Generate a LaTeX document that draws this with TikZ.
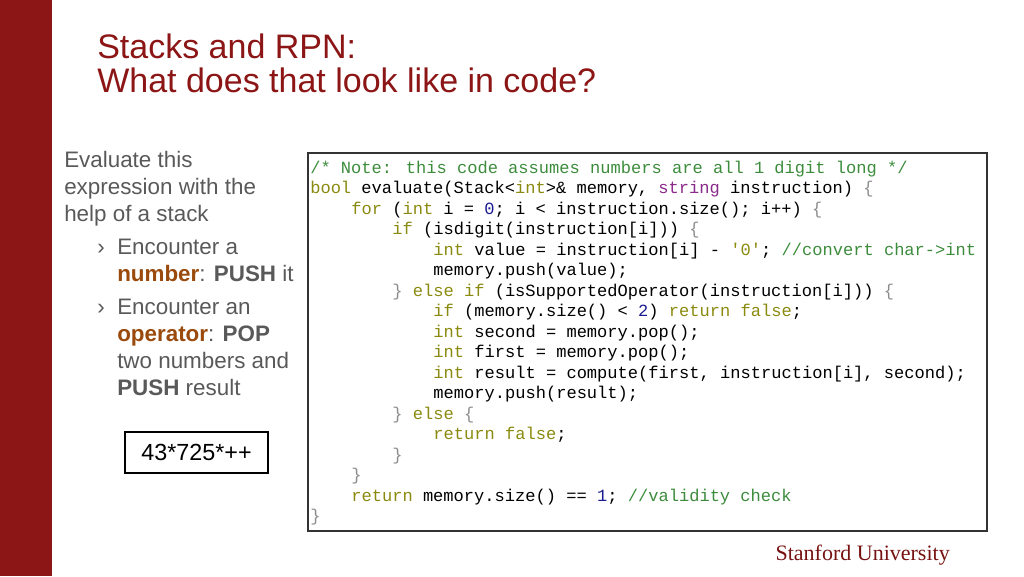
\documentclass[tikz,border=0pt]{standalone}
\usepackage{fontspec}
\setmainfont{Liberation Sans}
\newfontfamily\codefont{Liberation Mono}
\newfontfamily\sufont{Liberation Serif}
\definecolor{sred}{HTML}{8C1515}
\definecolor{bodygray}{HTML}{595959}
\definecolor{hl}{HTML}{9A4A0C}
\definecolor{kwc}{HTML}{8A8A10}
\definecolor{cmc}{HTML}{3C8C3C}
\definecolor{stc}{HTML}{8A2A8A}
\definecolor{nmc}{HTML}{1A1A90}
\definecolor{brc}{HTML}{8C8C8C}
\newcommand{\K}[1]{\textcolor{kwc}{#1}}
\newcommand{\C}[1]{\textcolor{cmc}{#1}}
\newcommand{\St}[1]{\textcolor{stc}{#1}}
\newcommand{\N}[1]{\textcolor{nmc}{#1}}
\newcommand{\B}[1]{\textcolor{brc}{#1}}
\begin{document}
\begin{tikzpicture}[x=0.75pt,y=-0.75pt,
  body/.style={anchor=base west,inner sep=0,text=bodygray,font=\fontsize{16.8}{19}\selectfont},
  code/.style={anchor=base west,inner sep=0,font=\codefont\fontsize{12.8}{15}\selectfont},
  title/.style={anchor=base west,inner sep=0,text=sred,font=\fontsize{25.5}{28}\selectfont}]
\useasboundingbox (0,0) rectangle (1024,576);
\fill[sred] (0,0) rectangle (52,576);
\node[title] (t1) at (97,58) {Stacks and RPN:};
\node[title] (t2) at (97,92) {What does that look like in code?};
\node[body] (b1) at (64,167) {Evaluate this};
\node[body] (b2) at (64,194) {expression with the};
\node[body] (b3) at (64,221) {help of a stack};
\node[body] (a1) at (97,254) {›};
\node[body] (b4) at (117,254) {Encounter a};
\node[body] (b5) at (117,281) {\textcolor{hl}{\textbf{number}}: \textbf{PUSH} it};
\node[body] (a2) at (97,314) {›};
\node[body] (b6) at (117,314) {Encounter an};
\node[body] (b7) at (117,341) {\textcolor{hl}{\textbf{operator}}: \textbf{POP}};
\node[body] (b8) at (117,368) {two numbers and};
\node[body] (b9) at (117,395) {\textbf{PUSH} result};
\node[draw=black,line width=0.8pt,minimum width=143*0.75pt,minimum height=41*0.75pt,inner sep=0,
  font=\fontsize{17.5}{20}\selectfont] (ex) at (196.5,452.5) {43*725*++};
\draw[line width=0.8pt,draw=black!80] (308,153) rectangle (987,531);
\def\cw{10.26}
\foreach \i/\ind/\txt in {
 0/0/{\C{/* Note: this code assumes numbers are all 1 digit long */}},
 1/0/{\K{bool} evaluate(Stack<\K{int}>\& memory, \St{string} instruction) \B{\{}},
 2/4/{\K{for} (\K{int} i = \N{0}; i < instruction.size(); i++) \B{\{}},
 3/8/{\K{if} (isdigit(instruction[i])) \B{\{}},
 4/12/{\K{int} value = instruction[i] - \K{'0'}; \C{//convert char->int}},
 5/12/{memory.push(value);},
 6/8/{\B{\}} \K{else if} (isSupportedOperator(instruction[i])) \B{\{}},
 7/12/{\K{if} (memory.size() < \N{2}) \K{return false};},
 8/12/{\K{int} second = memory.pop();},
 9/12/{\K{int} first = memory.pop();},
 10/12/{\K{int} result = compute(first, instruction[i], second);},
 11/12/{memory.push(result);},
 12/8/{\B{\}} \K{else} \B{\{}},
 13/12/{\K{return false};},
 14/8/{\B{\}}},
 15/4/{\B{\}}},
 16/4/{\K{return} memory.size() == \N{1}; \C{//validity check}},
 17/0/{\B{\}}}}
 \node[code] (c\i) at ({310+\ind*\cw},{173+\i*20.5}) {\txt};
\node[anchor=base east,inner sep=0,text=sred!85!black,font=\sufont\fontsize{16.5}{18}\selectfont] (su) at (950,560) {Stanford University};
\end{tikzpicture}
\end{document}
